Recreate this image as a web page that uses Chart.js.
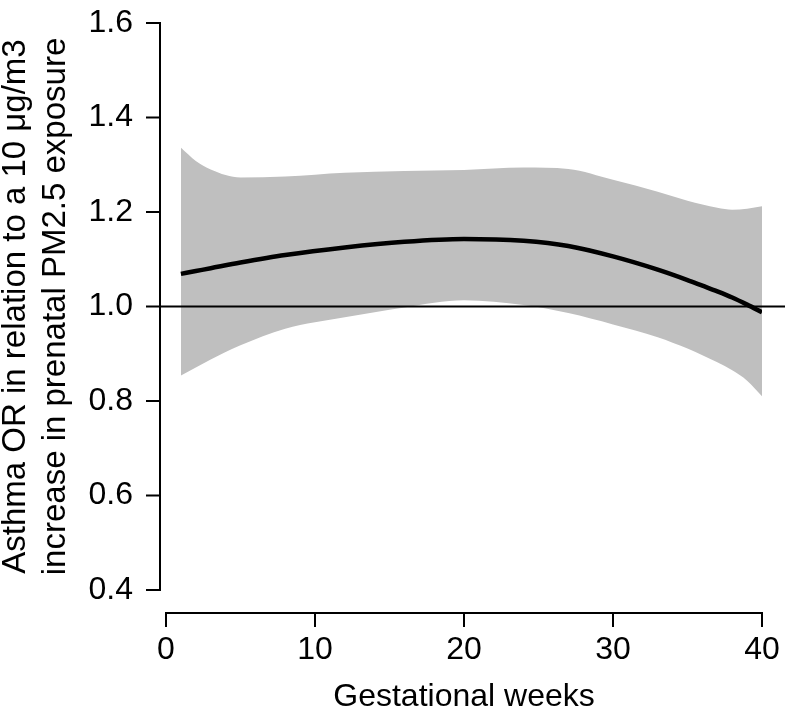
<!DOCTYPE html>
<html>
<head>
<meta charset="utf-8">
<script src="https://cdn.jsdelivr.net/npm/chart.js@4"></script>
<style>
  html, body { margin: 0; padding: 0; background: #fff; }
  #wrap { width: 788px; height: 717px; }
</style>
</head>
<body>
<div id="wrap"><canvas id="chartId" width="788" height="717"></canvas></div>
<script>
// values
const weeks = [1, 2, 3, 5, 8, 12, 16, 20, 24, 27, 30, 33, 35, 36, 37, 38, 39, 40];
const orMean = [1.069, 1.075, 1.081, 1.093, 1.109, 1.125, 1.137, 1.143, 1.139, 1.128, 1.106, 1.078, 1.056, 1.044, 1.032, 1.019, 1.004, 0.988];
const orUpper = [1.336, 1.308, 1.290, 1.273, 1.275, 1.283, 1.287, 1.289, 1.294, 1.291, 1.268, 1.243, 1.224, 1.216, 1.209, 1.205, 1.207, 1.212];
const orLower = [0.854, 0.871, 0.888, 0.918, 0.953, 0.977, 0.998, 1.013, 1.003, 0.986, 0.962, 0.935, 0.911, 0.897, 0.882, 0.865, 0.843, 0.810];

const xTicks = [0, 10, 20, 30, 40];
const yTicks = [0.4, 0.6, 0.8, 1.0, 1.2, 1.4, 1.6];
const refValue = 1.0;

const yTitle = ["Asthma OR in relation to a 10 \u03bcg/m3", "increase in prenatal PM2.5 exposure"];
const xTitle = "Gestational weeks";

function toPoints(ys) {
  return weeks.map((w, i) => ({ x: w, y: ys[i] }));
}

const FONT = "'Liberation Sans', Arial, Helvetica, sans-serif";

// R style detached axes + the reference line
const rAxes = {
  id: 'rAxes',
  afterDatasetDraw(chart, args) {
    if (args.index !== 1) return;
    const ctx = chart.ctx, ca = chart.chartArea;
    const y = chart.scales.y.getPixelForValue(refValue);
    ctx.save();
    ctx.strokeStyle = '#000';
    ctx.lineWidth = 2;
    ctx.beginPath();
    ctx.moveTo(ca.left - 6, y);
    ctx.lineTo(chart.width - 3, y);
    ctx.stroke();
    ctx.restore();
  },
  afterDraw(chart) {
    const ctx = chart.ctx, ca = chart.chartArea;
    const xs = chart.scales.x, ys = chart.scales.y;
    const tick = 13;
    ctx.save();
    ctx.strokeStyle = '#000';
    ctx.lineWidth = 2;
    ctx.lineCap = 'square';
    // y axis
    const ax = ca.left - 6;
    ctx.beginPath();
    ctx.moveTo(ax, ys.getPixelForValue(yTicks[0]));
    ctx.lineTo(ax, ys.getPixelForValue(yTicks[yTicks.length - 1]));
    yTicks.forEach(v => {
      const p = ys.getPixelForValue(v);
      ctx.moveTo(ax, p);
      ctx.lineTo(ax - tick, p);
    });
    ctx.stroke();
    // x axis
    const ay = ca.bottom + 23;
    ctx.beginPath();
    ctx.moveTo(xs.getPixelForValue(xTicks[0]), ay);
    ctx.lineTo(xs.getPixelForValue(xTicks[xTicks.length - 1]), ay);
    xTicks.forEach(v => {
      const p = xs.getPixelForValue(v);
      ctx.moveTo(p, ay);
      ctx.lineTo(p, ay + tick);
    });
    ctx.stroke();
    ctx.restore();
  }
};

var ctx = document.getElementById("chartId").getContext("2d");
var newChart = new Chart(ctx, {
  type: "line",
  data: {
    datasets: [{
      label: "OR",
      data: toPoints(orMean),
      borderColor: "#000",
      borderWidth: 4.5,
      pointRadius: 0,
      fill: false,
      cubicInterpolationMode: "monotone"
    }, {
      label: "upper",
      data: toPoints(orUpper),
      borderWidth: 0,
      borderColor: "rgba(0,0,0,0)",
      backgroundColor: "#bfbfbf",
      pointRadius: 0,
      fill: 2,
      cubicInterpolationMode: "monotone"
    }, {
      label: "lower",
      data: toPoints(orLower),
      borderWidth: 0,
      borderColor: "rgba(0,0,0,0)",
      pointRadius: 0,
      fill: false,
      cubicInterpolationMode: "monotone"
    }]
  },
  options: {
    responsive: false,
    animation: false,
    events: [],
    layout: { padding: { top: 23, right: 26, bottom: 0, left: 0 } },
    plugins: {
      legend: { display: false },
      tooltip: { enabled: false }
    },
    scales: {
      x: {
        type: "linear",
        min: 0,
        max: 40,
        grid: { display: false, drawTicks: false },
        border: { display: false },
        afterBuildTicks: s => { s.ticks = xTicks.map(v => ({ value: v })); },
        afterFit: s => { s.height = 127; s.paddingLeft = 0; s.paddingRight = 0; },
        ticks: {
          color: "#000",
          padding: 41,
          maxRotation: 0,
          font: { family: FONT, size: 32 },
          callback: v => String(v)
        },
        title: {
          display: true,
          text: xTitle,
          color: "#000",
          padding: { top: 0, bottom: 1 },
          font: { family: FONT, size: 32, lineHeight: 1.2 }
        }
      },
      y: {
        min: 0.4,
        max: 1.6,
        grid: { display: false, drawTicks: false },
        border: { display: false },
        afterBuildTicks: s => { s.ticks = yTicks.map(v => ({ value: v })); },
        afterFit: s => { s.width = 166; s.paddingTop = 0; s.paddingBottom = 0; },
        ticks: {
          color: "#000",
          padding: 33,
          font: { family: FONT, size: 32 },
          callback: v => v.toFixed(1)
        },
        title: {
          display: true,
          text: yTitle,
          color: "#000",
          padding: { top: -5, bottom: 0 },
          font: { family: FONT, size: 33, lineHeight: 1.24 }
        }
      }
    }
  },
  plugins: [rAxes]
});
</script>
</body>
</html>
